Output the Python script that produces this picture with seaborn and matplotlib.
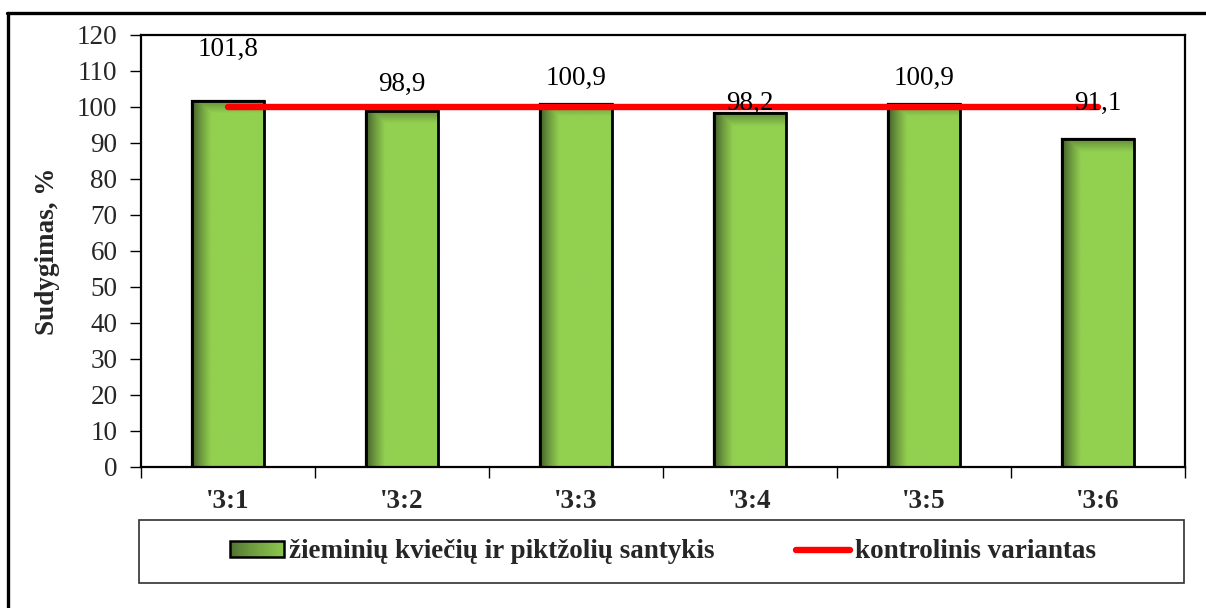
import numpy as np
import pandas as pd
import matplotlib
matplotlib.use("Agg")
import matplotlib.pyplot as plt
from matplotlib.patches import Rectangle, Patch
from matplotlib.lines import Line2D
from matplotlib.colors import to_rgb
from matplotlib.legend_handler import HandlerPatch
import seaborn as sns

# Data
categories = ["'3:1", "'3:2", "'3:3", "'3:4", "'3:5", "'3:6"]
emergence = [101.8, 98.9, 100.9, 98.2, 100.9, 91.1]
control = [100, 100, 100, 100, 100, 100]
label_offsets = [14.2, 7.4, 7.0, 2.8, 7.0, 9.9]

series_bar = "žieminių kviečių ir piktžolių santykis"
series_line = "kontrolinis variantas"
y_label = "Sudygimas, %"

sns.set_theme(style="white")
plt.rcParams["font.family"] = ["Liberation Serif", "DejaVu Serif"]

FS = 19.5
W, H = 1206, 608
fig = plt.figure(figsize=(W / 100, H / 100), dpi=100)
ax = fig.add_axes([141 / W, 1 - 467 / H, (1185 - 141) / W, (467 - 35) / H])

df = pd.DataFrame({"cat": categories, "val": emergence})
sns.barplot(data=df, x="cat", y="val", ax=ax, color="#92D050", width=0.414,
            edgecolor="black", linewidth=1.6, saturation=1, zorder=2)

light = np.array(to_rgb("#92D050"))
dark = np.array(to_rgb("#40592A"))


def shade(frac):
    t = np.clip(frac, 0, 1)
    return dark + (light - dark) * t


# shaded fill: dark along the left edge and top of each bar
for p in list(ax.patches):
    x0, y0 = p.get_x(), p.get_y()
    w, h = p.get_width(), p.get_height()
    nx, ny = 120, 400
    xs = np.linspace(0, 1, nx)
    ys = np.linspace(h, 0, ny)  # top row first
    tx = np.clip(xs / 0.26, 0, 1) ** 0.8
    ty = np.clip((h - ys) / 3.5, 0, 1)
    ty = 0.45 + 0.55 * ty
    f = np.minimum(tx[None, :], ty[:, None])
    img = dark[None, None, :] + (light - dark)[None, None, :] * f[:, :, None]
    im = ax.imshow(img, extent=(x0, x0 + w, y0, y0 + h), aspect="auto",
                   interpolation="bilinear", zorder=2.1)
    im.set_clip_path(p)
    ax.add_patch(Rectangle((x0, y0), w, h, fill=False, edgecolor="black",
                           linewidth=2.0, zorder=2.2))

# control line
xpos = np.arange(len(categories))
sns.lineplot(x=xpos, y=control, ax=ax, color="#FF0000", linewidth=4.6,
             solid_capstyle="round", zorder=3)

# value labels
for i, (v, off) in enumerate(zip(emergence, label_offsets)):
    ax.text(i, v + off, f"{v:.1f}".replace(".", ","), ha="center",
            va="center", fontsize=FS, color="black")

ax.set_xlim(-0.5, len(categories) - 0.5)
ax.set_ylim(0, 120)
ax.set_yticks(np.arange(0, 121, 10))
ax.set_xticks(xpos)
ax.set_xticklabels(categories, fontweight="bold", fontsize=FS)
ax.set_xticks(np.arange(-0.5, len(categories), 1), minor=True)
ax.tick_params(axis="x", which="major", length=0, pad=16)
ax.tick_params(axis="x", which="minor", length=8, width=1.0, direction="out",
               color="black", bottom=True)
ax.tick_params(axis="y", which="major", length=8, width=1.0, direction="out",
               color="black", left=True, labelsize=FS, pad=9)
ax.set_xlabel("")
ax.set_ylabel(y_label, fontweight="bold", fontsize=FS, labelpad=12)
for s in ax.spines.values():
    s.set_visible(True)
    s.set_color("black")
    s.set_linewidth(1.6)


class GradientPatchHandler(HandlerPatch):
    def create_artists(self, legend, orig_handle, xdescent, ydescent,
                       width, height, fontsize, trans):
        arts = []
        n = 30
        for k in range(n):
            c = shade(0.15 + 0.75 * (k / (n - 1)) ** 0.7)
            r = Rectangle((-xdescent + width * k / n, -ydescent), width / n + 0.3,
                          height, facecolor=c, edgecolor="none", transform=trans)
            arts.append(r)
        arts.append(Rectangle((-xdescent, -ydescent), width, height, fill=False,
                              edgecolor="black", linewidth=1.8, transform=trans))
        return arts


# legend box
fig.patches.append(Rectangle((139 / W, 1 - 583 / H), (1184 - 139) / W, 63 / H,
                             transform=fig.transFigure, fill=False,
                             edgecolor="#303030", linewidth=1.2))
bar_handle = Patch(facecolor="#5E8436", edgecolor="black")
line_handle = Line2D([0], [0], color="#FF0000", linewidth=4.6,
                     solid_capstyle="round")
fig.legend([bar_handle, line_handle], [series_bar, series_line], loc="center",
           bbox_to_anchor=(663 / W, 1 - 552 / H), ncol=2, frameon=False,
           prop={"weight": "bold", "size": FS}, handlelength=2.0,
           handleheight=0.5, handletextpad=0.2, columnspacing=3.0,
           handler_map={Patch: GradientPatchHandler()})

# outer frame
fig.add_artist(Line2D([7 / W, 1.0], [1 - 13 / H, 1 - 13 / H],
                      transform=fig.transFigure, color="black", linewidth=2.4))
fig.add_artist(Line2D([8 / W, 8 / W], [0, 1 - 13 / H],
                      transform=fig.transFigure, color="black", linewidth=2.4))

fig.savefig("out.png", dpi=100, facecolor="white")
